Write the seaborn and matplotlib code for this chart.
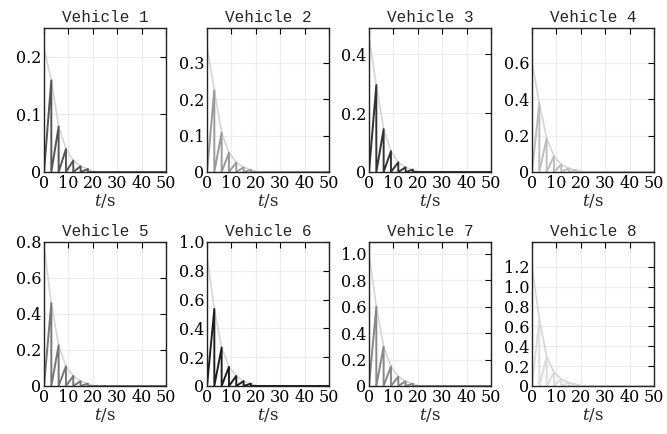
import numpy as np
import pandas as pd
import matplotlib
matplotlib.use("Agg")
import matplotlib.pyplot as plt
import seaborn as sns

# Values
vehicles = ["Vehicle 1", "Vehicle 2", "Vehicle 3", "Vehicle 4",
            "Vehicle 5", "Vehicle 6", "Vehicle 7", "Vehicle 8"]

# time of each reset (start, then one reset every ~3 s)
reset_t = [0, 3, 6, 9, 12, 15, 18]
env_end_t = [21, 50]

# value of envelope at t=0
start_val = [0.216, 0.344, 0.458, 0.60, 0.776, 0.90, 1.00, 1.20]

# peak reached just before each reset
peak_val = [
    [0.159, 0.079, 0.040, 0.020, 0.010, 0.005],
    [0.224, 0.108, 0.053, 0.026, 0.013, 0.006],
    [0.296, 0.146, 0.071, 0.033, 0.016, 0.008],
    [0.377, 0.185, 0.088, 0.041, 0.020, 0.010],
    [0.460, 0.227, 0.110, 0.056, 0.027, 0.013],
    [0.535, 0.267, 0.133, 0.070, 0.034, 0.016],
    [0.600, 0.298, 0.148, 0.071, 0.035, 0.017],
    [0.678, 0.296, 0.139, 0.070, 0.034, 0.016],
]

line_colors = ["#555555", "#9a9a9a", "#333333", "#bdbdbd",
               "#777777", "#1e1e1e", "#888888", "#dcdcdc"]
env_color = "#d6d6d6"

y_ticks = [
    [0, 0.1, 0.2],
    [0, 0.1, 0.2, 0.3],
    [0, 0.2, 0.4],
    [0, 0.2, 0.4, 0.6],
    [0, 0.2, 0.4, 0.6, 0.8],
    [0, 0.2, 0.4, 0.6, 0.8, 1.0],
    [0, 0.2, 0.4, 0.6, 0.8, 1.0],
    [0, 0.2, 0.4, 0.6, 0.8, 1.0, 1.2],
]
y_top = [0.25, 0.395, 0.49, 0.79, 0.8, 1.0, 1.09, 1.45]
x_ticks = [0, 10, 20, 30, 40, 50]

# build tidy tables
rows = []
for i, name in enumerate(vehicles):
    # sawtooth: rise from 0 to the peak, then drop back to 0
    order = 0
    for k, p in enumerate(peak_val[i]):
        t0, t1 = reset_t[k], reset_t[k + 1]
        for t, y in [(t0, 0.0), (t1, p), (t1, 0.0)]:
            rows.append((name, "signal", order, t, y))
            order += 1
    rows.append((name, "signal", order, env_end_t[0], 0.0))
    rows.append((name, "signal", order + 1, env_end_t[1], 0.0))
    # envelope through the peaks
    env_pts = [(0, start_val[i])] + [(reset_t[k + 1], p) for k, p in enumerate(peak_val[i])]
    env_pts += [(env_end_t[0], 0.0), (env_end_t[1], 0.0)]
    for j, (t, y) in enumerate(env_pts):
        rows.append((name, "envelope", j, t, y))
df = pd.DataFrame(rows, columns=["vehicle", "kind", "order", "t", "y"])

sns.set_style("whitegrid")
plt.rcParams["font.family"] = ["DejaVu Serif"]
plt.rcParams["mathtext.fontset"] = "dejavuserif"

fig = plt.figure(figsize=(6.67, 4.34), dpi=100)
W, H = 667, 434
lefts = [44, 207, 369, 532]
tops = [28, 242]
aw, ah = 122, 144

for i, name in enumerate(vehicles):
    r, c = divmod(i, 4)
    ax = fig.add_axes([lefts[c] / W, (H - tops[r] - ah) / H, aw / W, ah / H])
    sub = df[df.vehicle == name]
    sns.lineplot(data=sub[sub.kind == "envelope"], x="t", y="y", sort=False,
                 estimator=None, color=env_color, lw=1.2, ax=ax)
    sns.lineplot(data=sub[sub.kind == "signal"], x="t", y="y", sort=False,
                 estimator=None, color=line_colors[i], lw=1.4, ax=ax)
    ax.set_xlim(0, 50)
    ax.set_ylim(0, y_top[i])
    ax.set_xticks(x_ticks)
    ax.set_xticklabels([str(v) for v in x_ticks])
    ax.set_yticks(y_ticks[i])
    ax.set_yticklabels(["0" if v == 0 else f"{v:.1f}" for v in y_ticks[i]])
    ax.tick_params(direction="in", top=True, right=True, length=4, width=0.8,
                   labelsize=11.5, pad=2, colors="black")
    ax.grid(True, color="#ececec", lw=0.8)
    for s in ax.spines.values():
        s.set_color("#222222")
        s.set_linewidth(1.0)
    ax.set_title(name, family="Liberation Mono", fontsize=11.5, pad=4)
    ax.set_xlabel("$t$/s", fontsize=12, labelpad=0)
    ax.set_ylabel("")

fig.savefig("out.png", dpi=100, facecolor="white")
